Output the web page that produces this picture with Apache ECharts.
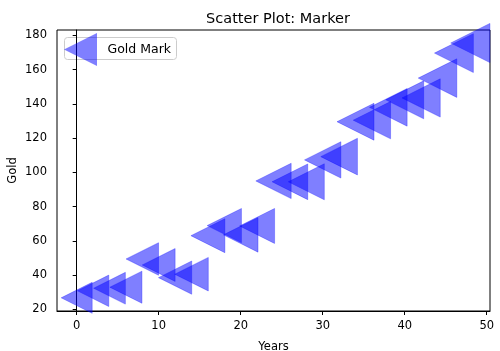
<!DOCTYPE html>
<html>
<head>
<meta charset="utf-8">
<script src="https://cdn.jsdelivr.net/npm/echarts@6/dist/echarts.min.js"></script>
<style>
html,body{margin:0;padding:0;background:#fff;}
#chart{width:500px;height:351px;}
</style>
</head>
<body>
<div id="chart"></div>
<script>
var years=[0,2,4,6,8,10,12,14,16,18,20,22,24,26,28,30,32,34,36,38,40,42,44,46,48];
var gold=[26.7,30.8,32.3,32.9,49.4,45.9,38.5,40.5,63,68.9,63.5,68.7,95,94.5,94.5,107.3,109.2,129.6,130.5,138,142.4,143.5,155.1,169.7,175.6];
var xTicks=[0,10,20,30,40,50];
var yTicks=[20,40,60,80,100,120,140,160,180];

var LEFT_TRI='path://M0,50 L100,0 L100,100 Z';
var chart=echarts.init(document.getElementById('chart'));

var pts=[];
for(var i=0;i<years.length;i++){pts.push([years[i],gold[i]]);}

var option={
	animation:false,
	textStyle:{fontFamily:'DejaVu Sans'},
	title:{text:'Scatter Plot: Marker',left:273,top:7,textAlign:'center',
		textStyle:{fontSize:14.5,fontWeight:'normal',color:'#000'}},
	legend:{
		left:64,top:33,padding:0,itemGap:0,
		itemWidth:34,itemHeight:33,
		icon:LEFT_TRI,
		itemStyle:{color:'blue',opacity:0.5,borderWidth:0},
		textStyle:{fontSize:12.5,color:'#000',padding:[0,0,0,5]},
		data:['Gold Mark']
	},
	graphic:[{
		type:'rect',left:64,top:37,z:-1,
		shape:{width:112,height:22,r:3},
		style:{fill:'#fff',stroke:'#ccc',lineWidth:1}
	}],
	grid:{left:57,right:10,top:30,bottom:40,outerBoundsMode:'none',containLabel:false,
		show:true,borderColor:'#000',borderWidth:1},
	xAxis:{
		type:'value',min:-2.4,max:50.4,
		name:'Years',nameLocation:'middle',nameGap:30,nameMoveOverlap:false,
		nameTextStyle:{fontSize:11.5,color:'#000'},
		splitLine:{show:false},
		axisLine:{show:true,lineStyle:{color:'#000'}},
		axisTick:{show:true,length:4,customValues:xTicks,lineStyle:{color:'#000'}},
		axisLabel:{fontSize:11.5,color:'#000',margin:9,customValues:xTicks}
	},
	yAxis:{
		type:'value',min:19,max:183.2,
		name:'Gold',nameLocation:'middle',nameGap:38,nameMoveOverlap:false,
		nameTextStyle:{fontSize:11.5,color:'#000'},
		splitLine:{show:false},
		axisLine:{show:true,lineStyle:{color:'#000'}},
		axisTick:{show:true,length:4,customValues:yTicks,lineStyle:{color:'#000'}},
		axisLabel:{fontSize:11.5,color:'#000',margin:10,customValues:yTicks}
	},
	series:[{
		name:'Gold Mark',
		type:'scatter',
		symbol:LEFT_TRI,
		symbolSize:function(v){var w=2*Math.sqrt(240+3*v[0]);return [w,w];},
		itemStyle:{color:'blue',opacity:0.5,borderColor:'blue',borderWidth:0.6},
		data:pts
	}]
};
chart.setOption(option);
</script>
</body>
</html>
